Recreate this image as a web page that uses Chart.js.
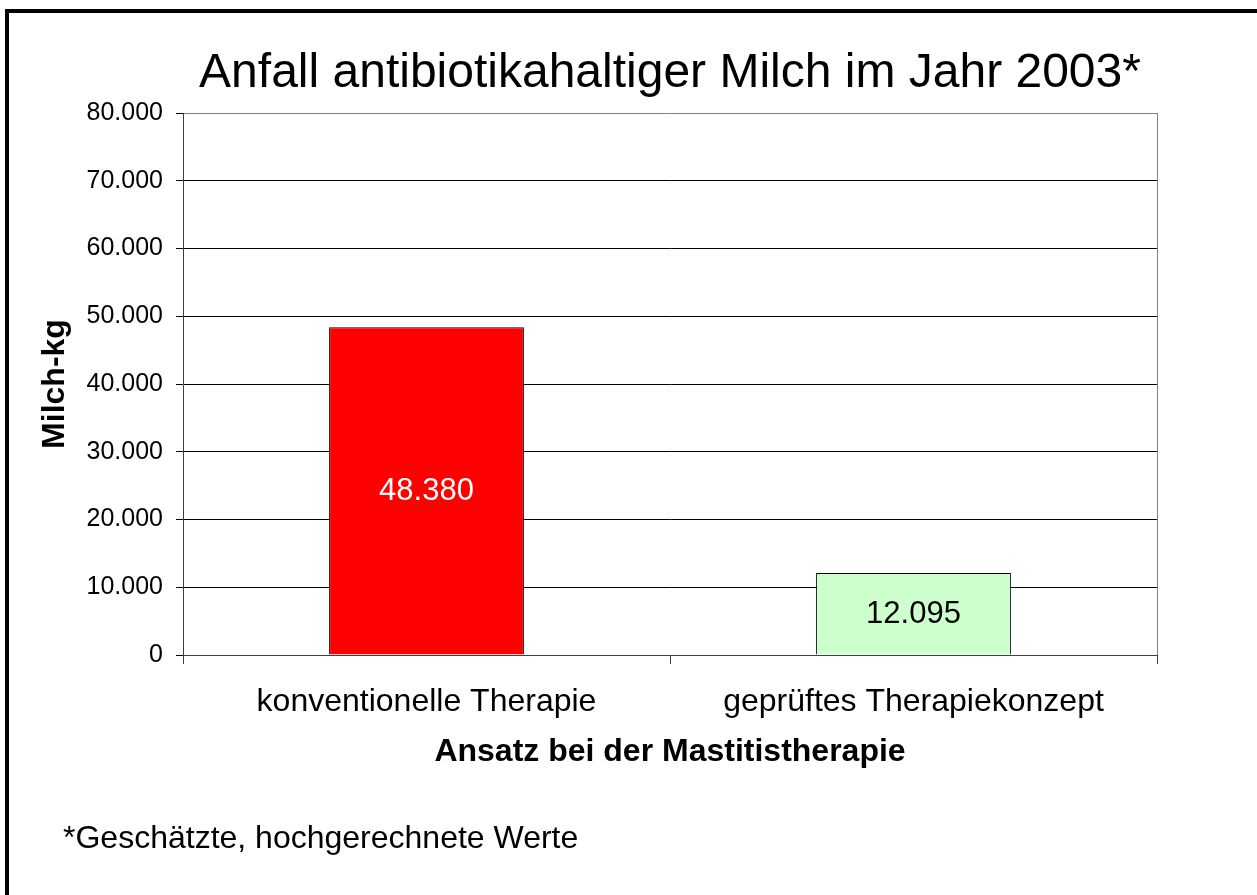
<!DOCTYPE html>
<html>
<head>
<meta charset="utf-8">
<script src="https://cdn.jsdelivr.net/npm/chart.js@4"></script>
<style>
  body { margin: 0; background: #fff; }
  #rahmen { position: absolute; left: 5px; top: 9px; width: 1300px; height: 950px;
            border-left: 4px solid #000; border-top: 4px solid #000; pointer-events: none; }
  canvas { position: absolute; left: 0; top: 0; }
</style>
</head>
<body>
<canvas id="milchChart" width="1257" height="895"></canvas>
<div id="rahmen"></div>
<script>
// Daten
const kategorien = ['konventionelle Therapie', 'geprüftes Therapiekonzept'];
const milchKg = [48380, 12095];
const titel = 'Anfall antibiotikahaltiger Milch im Jahr 2003*';
const fussnote = '*Geschätzte, hochgerechnete Werte';

const schrift = '"Liberation Sans", Arial, sans-serif';

// Tausenderpunkt wie im Original
function punkt(v) {
    return String(v).replace(/\B(?=(\d{3})+(?!\d))/g, '.');
}

// Titel, Fußnote, Werte in den Balken, rechter Rahmen
const extras = {
    id: 'extras',
    beforeDatasetsDraw(chart) {
        const ctx = chart.ctx;
        const a = chart.chartArea;
        ctx.save();
        ctx.strokeStyle = '#808080';
        ctx.lineWidth = 1;
        ctx.beginPath();
        ctx.moveTo(a.right + 0.5, a.top);
        ctx.lineTo(a.right + 0.5, a.bottom);
        ctx.stroke();
        ctx.restore();
    },
    afterDraw(chart) {
        const ctx = chart.ctx;
        const a = chart.chartArea;
        ctx.save();
        ctx.fillStyle = '#000';
        ctx.font = '48px ' + schrift;
        ctx.textAlign = 'center';
        ctx.textBaseline = 'alphabetic';
        ctx.fillText(titel, (a.left + a.right) / 2, 87);

        ctx.font = '32px ' + schrift;
        ctx.textAlign = 'left';
        ctx.fillText(fussnote, 63, 848);

        const meta = chart.getDatasetMeta(0);
        ctx.font = '31px ' + schrift;
        ctx.textAlign = 'center';
        ctx.textBaseline = 'middle';
        meta.data.forEach(function(bar, i) {
            ctx.fillStyle = i === 0 ? '#FFFFFF' : '#000000';
            ctx.fillText(punkt(milchKg[i]), bar.x, (bar.y + bar.base) / 2 + 1);
        });
        ctx.restore();
    }
};

const ctx = document.getElementById('milchChart').getContext('2d');
const chart = new Chart(ctx, {
    type: 'bar',
    data: {
        labels: kategorien,
        datasets: [{
            data: milchKg,
            backgroundColor: ['#FF0000', '#CCFFCC'],
            borderColor: '#000000',
            borderWidth: 1,
            barPercentage: 0.4,
            categoryPercentage: 1.0
        }]
    },
    options: {
        responsive: false,
        animation: false,
        devicePixelRatio: 1,
        layout: { padding: { left: 0, top: 113, right: 100, bottom: 120 } },
        plugins: {
            legend: { display: false },
            title: { display: false },
            tooltip: { enabled: false }
        },
        scales: {
            x: {
                afterFit: function(s) { s.height = 120; },
                grid: {
                    drawOnChartArea: false,
                    drawTicks: true,
                    tickLength: 9,
                    color: '#404040'
                },
                border: { color: '#404040', width: 1 },
                ticks: {
                    color: '#000',
                    padding: 19,
                    font: { family: schrift, size: 32 }
                },
                title: {
                    display: true,
                    text: 'Ansatz bei der Mastitistherapie',
                    color: '#000',
                    padding: { top: 0, bottom: 4 },
                    font: { family: schrift, size: 32, weight: 'bold' }
                }
            },
            y: {
                min: 0,
                max: 80000,
                afterFit: function(s) { s.width = 183; },
                grid: {
                    color: function(c) { return c.tick && c.tick.value === 80000 ? '#808080' : '#000000'; },
                    tickColor: '#000000',
                    tickLength: 7
                },
                border: { color: '#404040', width: 1 },
                ticks: {
                    stepSize: 10000,
                    color: '#000',
                    padding: 13,
                    font: { family: schrift, size: 25 },
                    callback: function(v) { return punkt(v); }
                },
                title: {
                    display: true,
                    text: 'Milch-kg',
                    color: '#000',
                    padding: { top: 36, bottom: 0 },
                    font: { family: schrift, size: 32, weight: 'bold' }
                }
            }
        }
    },
    plugins: [extras]
});
</script>
</body>
</html>
